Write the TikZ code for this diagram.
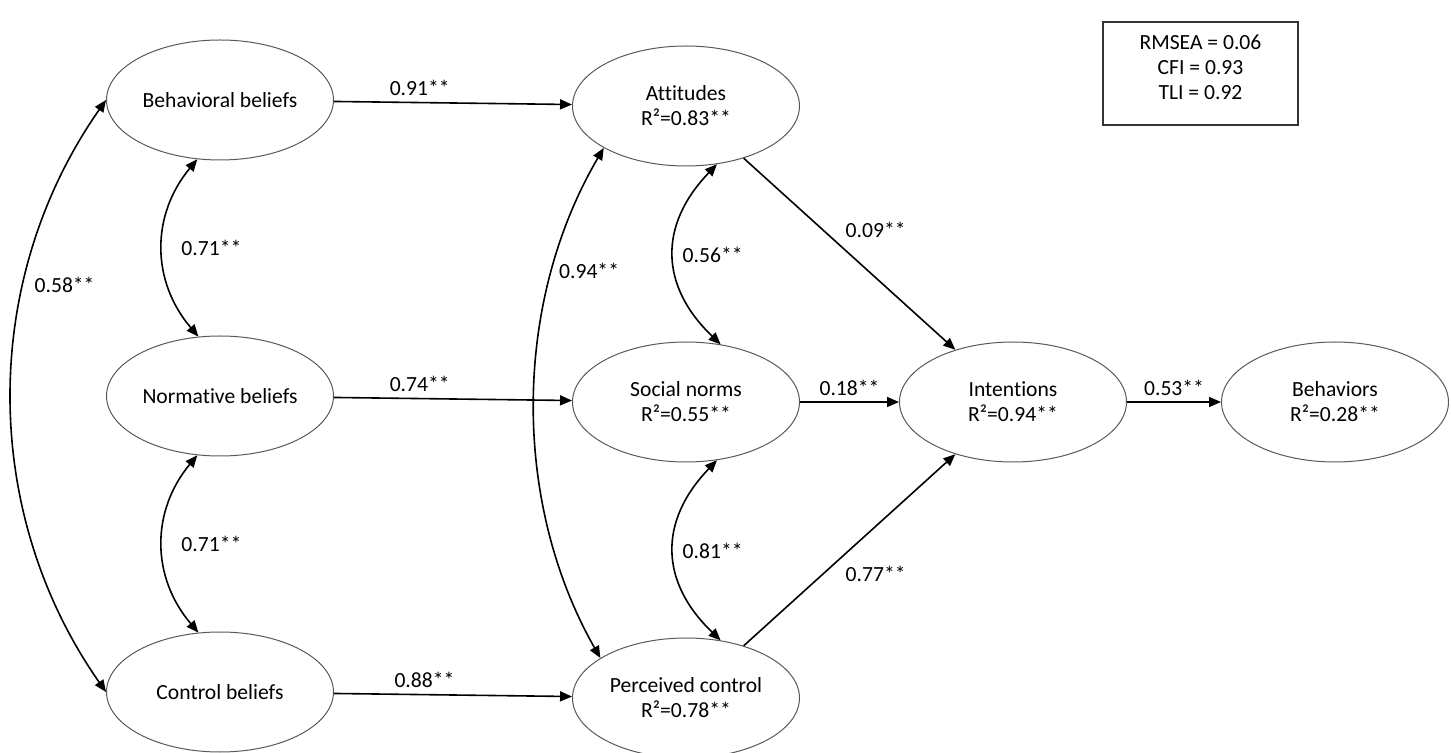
\documentclass[tikz,border=0pt]{standalone}
\usepackage{fontspec}
\setmainfont{Carlito}[Ligatures={NoCommon,NoContextual}]
\usepackage{tikz}
\usetikzlibrary{shapes.geometric, arrows.meta, positioning}

\begin{document}
\begin{tikzpicture}[
    latent/.style={ellipse, draw=black!65, line width=0.5pt, minimum width=113.5pt, minimum height=60pt, inner sep=0pt, align=center, font=\fontsize{10.8}{12.5}\selectfont},
    coef/.style={font=\fontsize{10.8}{12.5}\selectfont, inner sep=3pt},
    fitbox/.style={rectangle, draw=black!80, line width=0.6pt, minimum width=97.5pt, minimum height=51.5pt},
    path/.style={-{Triangle[length=6pt, width=5pt]}, line width=0.8pt},
    covar/.style={{Triangle[length=6pt, width=5pt]}-{Triangle[length=6pt, width=5pt]}, line width=0.8pt},
]
\useasboundingbox (-110pt,50pt) rectangle (615.5pt,-326.5pt);
% beliefs
\node[latent] (bbel) {Behavioral beliefs};
\node[latent, below=87.5pt of bbel] (nbel) {Normative beliefs};
\node[latent, below=87.5pt of nbel] (cbel) {Control beliefs};
% mediators
\node[latent, right=119pt of bbel, yshift=-3pt] (att) {Attitudes\\R²=0.83**};
\node[latent, below=87.5pt of att] (snorm) {Social norms\\R²=0.55**};
\node[latent, below=87.5pt of snorm] (pctl) {Perceived control\\R²=0.78**};
% outcomes
\node[latent, right=49.5pt of snorm] (intent) {Intentions\\R²=0.94**};
\node[latent, right=47pt of intent] (behav) {Behaviors\\R²=0.28**};
% fit indices
\node[fitbox] (fit) at (490.25pt,13.25pt) {};
\node[coef, align=center] (fittxt) at ([yshift=3pt]fit.center) {RMSEA = 0.06\\CFI = 0.93\\TLI = 0.92};
% paths
\draw[path] (bbel) -- node[coef, pos=0.36, above] {0.91**} (att);
\draw[path] (nbel) -- node[coef, pos=0.36, above] {0.74**} (snorm);
\draw[path] (cbel) -- node[coef, pos=0.38, above] {0.88**} (pctl);
\draw[path] (att) -- node[coef, pos=0.45, above right] {0.09**} (intent);
\draw[path] (snorm) -- node[coef, above] {0.18**} (intent);
\draw[path] (pctl) -- node[coef, pos=0.45, below right] {0.77**} (intent);
\draw[path] (intent) -- node[coef, above] {0.53**} (behav);
% covariances
\draw[covar] (bbel.west) to[bend right=35, looseness=0.95] node[coef, pos=0.32, right=2pt] {0.58**} (cbel.west);
\draw[covar] (bbel.249) to[bend right=40, looseness=1.05] node[coef, right=6pt] {0.71**} (nbel.110);
\draw[covar] (nbel.249) to[bend right=40, looseness=1.05] node[coef, right=6pt] {0.71**} (cbel.110);
\draw[covar] (att.207) to[bend right=30, looseness=0.9] node[coef, pos=0.25, right] {0.94**} (pctl.155);
\draw[covar] (att.298) to[bend right=45, looseness=1.2] node[coef, right=1pt] {0.56**} (snorm.59);
\draw[covar] (snorm.298) to[bend right=45, looseness=1.2] node[coef, right=1pt] {0.81**} (pctl.59);
\end{tikzpicture}
\end{document}
